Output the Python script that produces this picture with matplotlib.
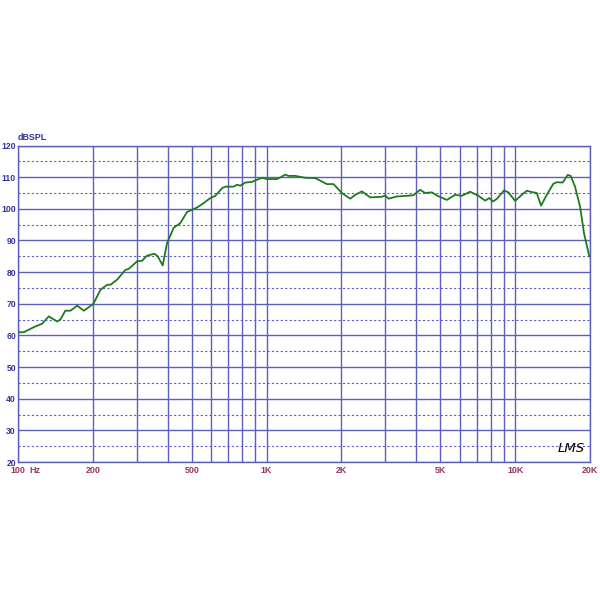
import matplotlib
matplotlib.use('Agg')
import matplotlib.pyplot as plt
import matplotlib.transforms as mtransforms

# frequency response (Hz, dB SPL)
freq = [100, 105.5, 115.7, 125, 133, 143.7, 148, 155, 162.5, 173, 184, 199,
        201.7, 214.6, 228.3, 235.4, 250.4, 270.4, 278.8, 301.4, 315.6, 330.6,
        353.7, 364.7, 382, 397.8, 422.9, 450, 478.6, 525.2, 558.3, 593.9,
        622, 661.6, 682.3, 736.9, 760.3, 784, 821.2, 873.6, 915, 958.3, 1004,
        1101, 1135, 1189, 1225, 1304, 1431, 1570, 1644, 1749, 1859, 2009,
        2170, 2273, 2417, 2612, 2910, 3000, 3094, 3343, 3667, 3897, 4146,
        4345, 4622, 4841, 5310, 5734, 6101, 6589, 7114, 7568, 7877, 8128,
        8433, 9025, 9391, 9991, 10630, 11130, 11660, 12210, 12710, 13400,
        14240, 14700, 15540, 16270, 16730, 17410, 18240, 18920, 19870]
spl = [61, 61, 62.6, 63.7, 66, 64.4, 65, 67.8, 67.8, 69.4, 67.8, 69.7,
       70.2, 74.4, 76, 76, 77.6, 80.7, 81, 83.4, 83.6, 85.2,
       85.8, 85, 82.1, 89.2, 94, 95.5, 99, 100.4, 101.8, 103.4,
       104.1, 106.5, 107, 107, 107.6, 107.3, 108.3, 108.5, 109.2, 109.8, 109.4,
       109.4, 109.9, 110.8, 110.4, 110.4, 109.8, 109.7, 108.9, 107.8, 107.8, 105,
       103.2, 104.4, 105.5, 103.6, 103.8, 104.2, 103.2, 103.9, 104.1, 104.3, 106,
       105, 105.2, 104.2, 102.8, 104.4, 104.1, 105.4, 104.1, 102.6, 103.4, 102.3,
       103.1, 105.8, 105.2, 102.5, 104.4, 105.7, 105.3, 105, 101, 104.4,
       107.9, 108.4, 108.3, 110.7, 110.4, 107, 100.7, 92.3, 85]

x_ticks = [100, 200, 500, 1000, 2000, 5000, 10000, 20000]
x_labels = ['100', '200', '500', '1K', '2K', '5K', '10K', '20K']
y_ticks = list(range(20, 121, 10))

grid_col = '#5e5ebc'
fig = plt.figure(figsize=(6, 6), dpi=100)
ax = fig.add_axes([18 / 600, 138 / 600, 572 / 600, 316.5 / 600])
ax.set_xscale('log')
ax.set_xlim(100, 20000)
ax.set_ylim(20, 120)

# vertical grid: 100..900, 1K..9K, 10K, 20K
vlines = [m * d for d in (100, 1000) for m in range(1, 10)] + [10000, 20000]
for v in vlines:
    ax.axvline(v, color=grid_col, lw=1.0, zorder=1)
for y in y_ticks:
    ax.axhline(y, color=grid_col, lw=1.0, zorder=1)
for y in range(25, 120, 10):
    ax.axhline(y, color=grid_col, lw=0.8, ls=(0, (2, 2)), zorder=1)

ax.plot(freq, spl, color='#1e7a1e', lw=1.3, zorder=3)

for s in ax.spines.values():
    s.set_color(grid_col)
    s.set_linewidth(1.0)

ax.set_yticks(y_ticks)
ax.set_yticklabels([str(v) for v in y_ticks], color='#33339a',
                   fontsize=6.2, fontweight='bold', family='Liberation Sans')
ax.set_xticks(x_ticks)
ax.set_xticklabels(x_labels, color='#993366', fontsize=6.4,
                   fontweight='bold', family='Liberation Sans')
ax.minorticks_off()
ax.tick_params(axis='y', length=0, pad=1.5)
ax.tick_params(axis='x', length=0, pad=3)

ax.text(117, 20, 'Hz', color='#993366', fontsize=6.4, fontweight='bold',
        family='Liberation Sans', ha='center', va='top',
        transform=mtransforms.offset_copy(ax.transData, fig=fig, y=-3,
                                          units='points'))
ax.text(0.0, 1.012, 'dBSPL', transform=ax.transAxes, color='#33339a',
        fontsize=6.4, fontweight='bold', family='Liberation Sans',
        ha='left', va='bottom')
ax.text(16800, 22.3, 'LMS', color='black', fontsize=9.5, style='italic',
        family='DejaVu Sans', ha='center', va='bottom', zorder=4)

fig.savefig('out.png', dpi=100, facecolor='white')
